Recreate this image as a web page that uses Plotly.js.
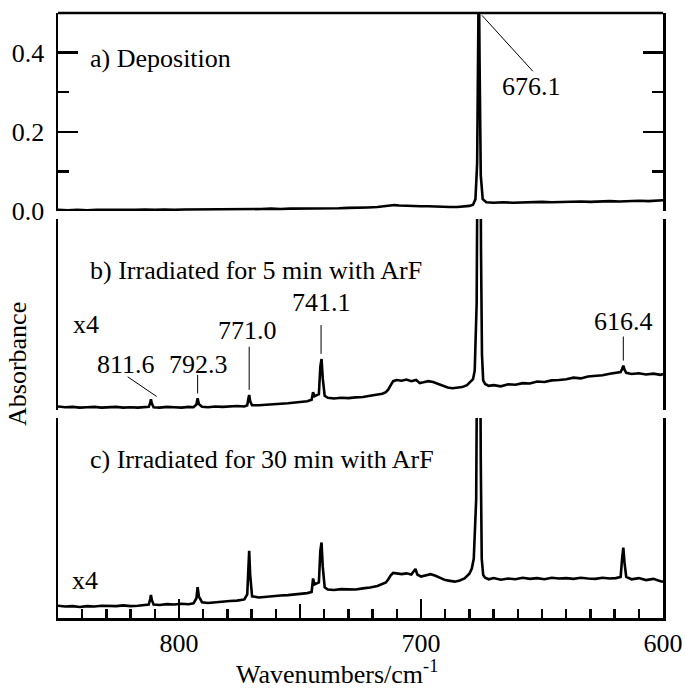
<!DOCTYPE html>
<html>
<head>
<meta charset="utf-8">
<script src="https://cdn.plot.ly/plotly-3.0.1.min.js"></script>
<style>html,body{margin:0;padding:0;background:#fff;}#chart{width:685px;height:688px;}</style>
</head>
<body>
<div id="chart"></div>
<script>
// ---- Data (wavenumber in cm^-1, absorbance; panels b and c are x4 traces) ----
const wnA = [850,846,842,838,834,830,826,822,818,814,810,806,802,798,794,790,786,782,778,774,770,766,762,758,754,750,746,742,738,734,730,726,722,718,715,713,711,709,706,703,700,697,694,691,688,685,682,680,678.5,677.5,676.8,676.4,676.1,675.8,675.3,674.5,673,670,666,662,658,654,650,646,642,638,634,630,626,622,618,614,610,606,602,600];
const absA = [0.003,0.002,0.003,0.002,0.003,0.003,0.002,0.003,0.003,0.004,0.003,0.004,0.003,0.004,0.004,0.004,0.005,0.004,0.005,0.005,0.005,0.005,0.006,0.005,0.006,0.006,0.007,0.006,0.007,0.007,0.008,0.008,0.009,0.010,0.012,0.014,0.015,0.014,0.013,0.013,0.012,0.012,0.011,0.011,0.010,0.010,0.011,0.013,0.016,0.030,0.120,0.420,0.620,0.380,0.090,0.030,0.022,0.021,0.022,0.021,0.022,0.022,0.023,0.022,0.023,0.023,0.024,0.023,0.024,0.025,0.024,0.025,0.026,0.025,0.026,0.027];

const wnB = [850,847,844,841,838,835,832,829,826,823,820,817,814,812.5,811.9,811.6,811.2,810.5,808,805,802,799,796,794,792.8,792.3,791.8,790.5,788,785,782,779,776,773,771.8,771.3,771.0,770.6,769.8,767,764,761,758,755,752,749,747,745.2,744.6,744.0,742.2,741.6,741.1,740.6,739.8,738.5,736,733,730,727,724,721,718,716,714.5,713.5,712.5,711.5,710,708,706,704,702,700.5,699,697,695,693,691,689,687,685,683,681,679.5,678.5,677.8,677.4,677.0,676.7,676.4,675.6,675.2,674.8,674.3,673.5,672,670,667,664,661,658,655,652,649,646,643,640,637,634,631,628,625,622,619.5,617.5,616.9,616.4,615.9,615.2,613,610,607,604,601,600];
const absB = [0.009,0.007,0.008,0.006,0.007,0.008,0.006,0.007,0.008,0.006,0.007,0.006,0.007,0.008,0.018,0.027,0.016,0.007,0.006,0.008,0.007,0.006,0.008,0.007,0.014,0.030,0.015,0.008,0.007,0.009,0.008,0.009,0.010,0.009,0.012,0.030,0.038,0.022,0.012,0.012,0.013,0.015,0.016,0.017,0.019,0.020,0.022,0.026,0.045,0.035,0.040,0.110,0.129,0.080,0.036,0.031,0.029,0.031,0.030,0.032,0.033,0.036,0.038,0.041,0.045,0.052,0.063,0.073,0.076,0.074,0.077,0.073,0.076,0.068,0.070,0.073,0.071,0.066,0.061,0.057,0.055,0.056,0.058,0.063,0.072,0.078,0.100,0.200,0.270,0.600,0.900,0.900,0.400,0.140,0.075,0.066,0.061,0.063,0.060,0.065,0.064,0.068,0.067,0.072,0.071,0.075,0.076,0.078,0.082,0.080,0.085,0.087,0.088,0.092,0.095,0.096,0.104,0.112,0.102,0.094,0.091,0.093,0.090,0.092,0.089,0.091];

const wnC = [850,847,844,841,838,835,832,829,826,823,820,817,814,812.5,811.9,811.6,811.2,810.5,808,805,802,799,796,794,792.8,792.3,791.8,790.5,788,785,782,779,776,773,771.8,771.3,771.0,770.6,769.8,767,764,761,758,755,752,749,747,745.2,744.6,744.0,742.2,741.6,741.1,740.6,739.8,738.5,736,733,730,727,724,721,718,716,714.5,713.5,712.5,711.5,710,708,706,704,702.3,701.5,700,698,696,694,692,690,688,686,684,682,680,679,678.2,677.6,677.2,676.9,676.6,675.7,675.3,674.9,674.3,673.5,672,670,667,664,661,658,655,652,649,646,643,640,637,634,631,628,625,622,619.5,617.5,616.9,616.4,615.9,615.2,613,610,607,604,601,600];
const absC = [0.031,0.029,0.030,0.028,0.030,0.029,0.031,0.030,0.030,0.032,0.030,0.031,0.033,0.034,0.048,0.058,0.045,0.034,0.033,0.035,0.034,0.036,0.035,0.037,0.050,0.078,0.055,0.040,0.038,0.040,0.041,0.043,0.044,0.047,0.060,0.150,0.170,0.110,0.055,0.052,0.054,0.055,0.057,0.058,0.060,0.061,0.063,0.066,0.100,0.085,0.090,0.170,0.191,0.130,0.078,0.072,0.071,0.073,0.072,0.072,0.075,0.077,0.081,0.085,0.090,0.098,0.108,0.114,0.113,0.111,0.113,0.110,0.124,0.110,0.105,0.108,0.111,0.107,0.101,0.096,0.094,0.092,0.095,0.100,0.112,0.125,0.150,0.250,0.300,0.600,0.900,0.900,0.400,0.150,0.109,0.102,0.098,0.101,0.097,0.100,0.098,0.102,0.099,0.101,0.098,0.102,0.100,0.101,0.099,0.102,0.100,0.099,0.102,0.100,0.101,0.104,0.150,0.178,0.140,0.104,0.098,0.101,0.096,0.099,0.093,0.092];

const panelLabels = ["a) Deposition", "b) Irradiated for 5 min with ArF", "c) Irradiated for 30 min with ArF"];
const peakLabelsB = ["811.6", "792.3", "771.0", "741.1", "616.4"];
const peakLabelA = "676.1";
const scaleLabel = "x4";
const xTickVals = [800, 700, 600];
const yTickValsA = [0.0, 0.2, 0.4];

// ---- Layout helpers ----
const FONT = 'Liberation Serif';
const FS = 26;
const LW = 2.5;

const traceStyle = {mode: 'lines', line: {color: '#000', width: 2.6}, hoverinfo: 'skip', showlegend: false};
const data = [
  Object.assign({x: wnA, y: absA, xaxis: 'x', yaxis: 'y'}, traceStyle),
  Object.assign({x: wnB, y: absB, xaxis: 'x', yaxis: 'y2'}, traceStyle),
  Object.assign({x: wnC, y: absC, xaxis: 'x', yaxis: 'y3'}, traceStyle),
  {x: [], y: [], xaxis: 'x2', yaxis: 'y3', showlegend: false, hoverinfo: 'skip'}
];

const rangeA = [0, 0.5], rangeB = [0, 0.4835], rangeC = [0, 0.5063];

function capAxis(domain, range) {
  return {
    domain: domain, range: range, showgrid: false, zeroline: false,
    showline: true, linecolor: '#000', linewidth: LW, mirror: 'ticks',
    ticks: 'inside', ticklen: 20, tickwidth: LW, tickcolor: '#000',
    tickmode: 'array', tickvals: range.slice(), showticklabels: false, fixedrange: true
  };
}

const layout = {
  width: 685, height: 688,
  margin: {l: 58, r: 22, t: 13, b: 70, pad: 0},
  paper_bgcolor: '#fff', plot_bgcolor: 'rgba(0,0,0,0)',
  font: {family: FONT, size: FS, color: '#000'},
  showlegend: false,
  xaxis: {
    anchor: 'y3', range: [850, 600], showgrid: false, zeroline: false,
    showline: true, linecolor: '#000', linewidth: LW,
    ticks: 'inside', ticklen: 19, tickwidth: LW, tickcolor: '#000',
    tickmode: 'array', tickvals: xTickVals, ticktext: xTickVals.map(String),
    ticklabelstandoff: 0,
    minor: {dtick: 10, tick0: 600, ticks: 'inside', ticklen: 9, tickwidth: LW, tickcolor: '#000', showgrid: false},
    tickfont: {family: FONT, size: FS, color: '#000'}, fixedrange: true
  },
  xaxis2: {
    overlaying: 'x', anchor: 'y3', range: [850, 600], showgrid: false, zeroline: false,
    showline: false, ticks: 'inside', ticklen: 14, tickwidth: LW, tickcolor: '#000',
    tickmode: 'array', tickvals: [750], showticklabels: false, fixedrange: true
  },
  yaxis: {
    domain: [0.6727, 1], range: rangeA, anchor: 'x', showgrid: false, zeroline: false,
    showline: true, linecolor: '#000', linewidth: LW, mirror: 'ticks',
    ticks: 'inside', ticklen: 20, tickwidth: LW, tickcolor: '#000',
    tickmode: 'array', tickvals: yTickValsA, ticktext: yTickValsA.map(v => v.toFixed(1)),
    ticklabelstandoff: 6,
    minor: {dtick: 0.1, tick0: 0, ticks: 'inside', ticklen: 11, tickwidth: LW, tickcolor: '#000', showgrid: false},
    tickfont: {family: FONT, size: FS, color: '#000'}, fixedrange: true
  },
  yaxis2: Object.assign(capAxis([0.3438, 0.6595], rangeB), {anchor: 'x'}),
  yaxis3: Object.assign(capAxis([0, 0.3306], rangeC), {anchor: 'x'}),
  shapes: [
    {type: 'line', xref: 'paper', yref: 'paper', x0: 0, x1: 1, y0: 1, y1: 1, line: {color: '#000', width: LW}},
    {type: 'line', xref: 'x', yref: 'y', x0: 674.8, y0: 0.494, x1: 653.8, y1: 0.353, line: {color: '#000', width: 1}},
    {type: 'line', xref: 'x', yref: 'y2', x0: 821.2, y0: 0.084, x1: 809.2, y1: 0.034, line: {color: '#000', width: 1}},
    {type: 'line', xref: 'x', yref: 'y2', x0: 792.3, y0: 0.089, x1: 792.3, y1: 0.042, line: {color: '#000', width: 1}},
    {type: 'line', xref: 'x', yref: 'y2', x0: 771.0, y0: 0.160, x1: 771.0, y1: 0.051, line: {color: '#000', width: 1}},
    {type: 'line', xref: 'x', yref: 'y2', x0: 741.3, y0: 0.215, x1: 741.3, y1: 0.142, line: {color: '#000', width: 1}},
    {type: 'line', xref: 'x', yref: 'y2', x0: 616.4, y0: 0.186, x1: 616.4, y1: 0.125, line: {color: '#000', width: 1}}
  ],
  annotations: [
    {text: panelLabels[0], xref: 'paper', yref: 'paper', x: 0.0496, y: 0.9256, xanchor: 'left', yanchor: 'middle', showarrow: false},
    {text: panelLabels[1], xref: 'paper', yref: 'paper', x: 0.0496, y: 0.5736, xanchor: 'left', yanchor: 'middle', showarrow: false},
    {text: panelLabels[2], xref: 'paper', yref: 'paper', x: 0.0496, y: 0.2628, xanchor: 'left', yanchor: 'middle', showarrow: false},
    {text: scaleLabel, xref: 'paper', yref: 'paper', x: 0.0215, y: 0.4843, xanchor: 'left', yanchor: 'middle', showarrow: false},
    {text: scaleLabel, xref: 'paper', yref: 'paper', x: 0.0198, y: 0.0628, xanchor: 'left', yanchor: 'middle', showarrow: false},
    {text: peakLabelA, xref: 'x', yref: 'y', x: 654.5, y: 0.314, xanchor: 'center', yanchor: 'middle', showarrow: false},
    {text: peakLabelsB[0], xref: 'x', yref: 'y2', x: 821.7, y: 0.114, xanchor: 'center', yanchor: 'middle', showarrow: false},
    {text: peakLabelsB[1], xref: 'x', yref: 'y2', x: 792.1, y: 0.114, xanchor: 'center', yanchor: 'middle', showarrow: false},
    {text: peakLabelsB[2], xref: 'x', yref: 'y2', x: 771.5, y: 0.200, xanchor: 'center', yanchor: 'middle', showarrow: false},
    {text: peakLabelsB[3], xref: 'x', yref: 'y2', x: 741.1, y: 0.271, xanchor: 'center', yanchor: 'middle', showarrow: false},
    {text: peakLabelsB[4], xref: 'x', yref: 'y2', x: 616.3, y: 0.223, xanchor: 'center', yanchor: 'middle', showarrow: false},
    {text: 'Absorbance', xref: 'paper', yref: 'paper', x: -0.0678, y: 0.4198, xanchor: 'center', yanchor: 'middle', textangle: -90, showarrow: false},
    {text: 'Wavenumbers/cm<sup>-1</sup>', xref: 'paper', yref: 'paper', x: 0.461, y: -0.0893, xanchor: 'center', yanchor: 'middle', showarrow: false}
  ]
};

Plotly.newPlot('chart', data, layout, {displayModeBar: false, staticPlot: true});
</script>
</body>
</html>
